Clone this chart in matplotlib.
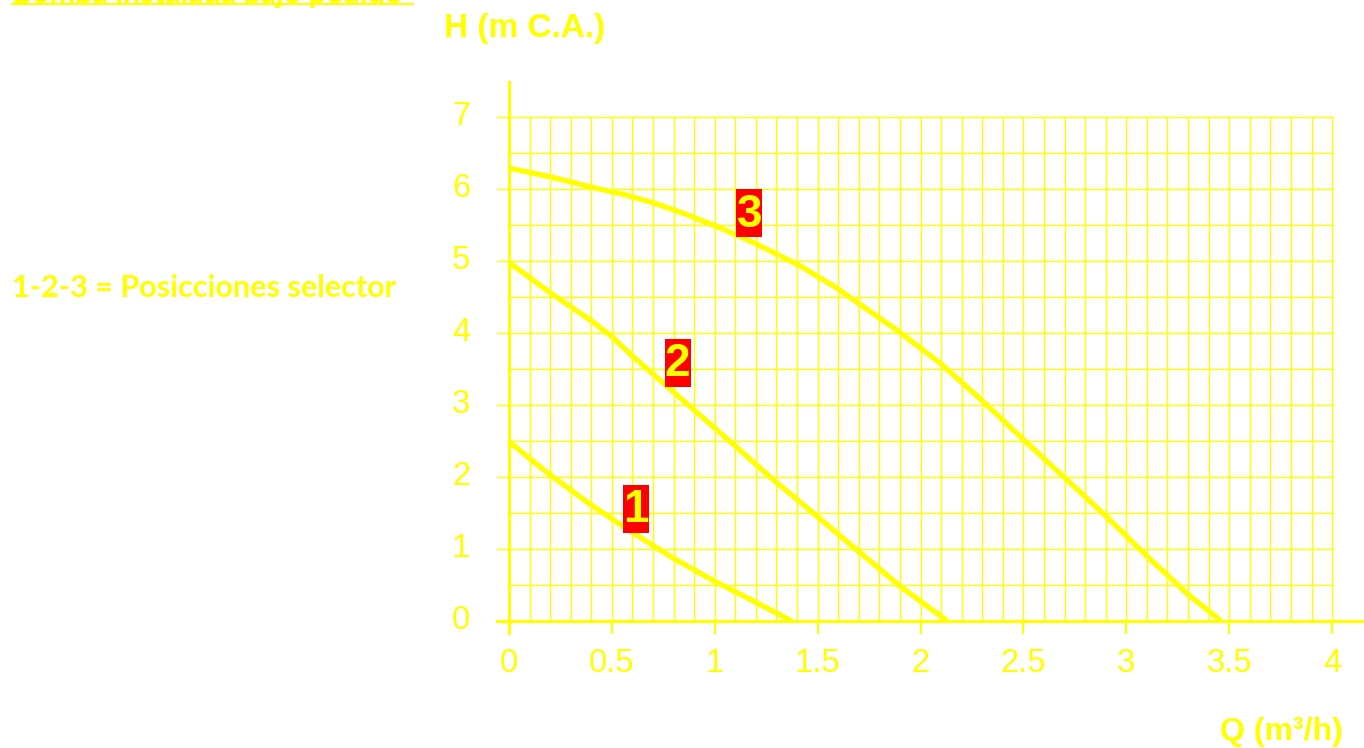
import numpy as np
import matplotlib
matplotlib.use('Agg')
import matplotlib.pyplot as plt
from matplotlib.lines import Line2D
from matplotlib.patches import Rectangle

# curvas de la bomba, posiciones 1-2-3 del selector
q1 = [0, 0.2, 0.4, 0.6, 0.8, 1.0, 1.2, 1.374]
h1 = [2.49, 2.03, 1.61, 1.23, 0.87, 0.55, 0.26, 0.0]

q2 = [0, 0.2, 0.4, 0.5, 0.6, 0.7, 0.8, 0.9, 1.1, 1.285, 1.416, 1.687, 1.90, 2.13]
h2 = [4.98, 4.56, 4.17, 3.95, 3.68, 3.43, 3.18, 2.93, 2.43, 1.96, 1.65, 0.995, 0.485, 0.0]

q3 = [0, 0.2, 0.394, 0.55, 0.7, 0.85, 1.01, 1.2, 1.416, 1.59, 1.90, 2.10, 2.30, 2.50, 2.70, 2.90, 3.10, 3.30, 3.46]
h3 = [6.29, 6.17, 6.03, 5.93, 5.81, 5.66, 5.48, 5.24, 4.93, 4.63, 4.01, 3.57, 3.06, 2.52, 1.99, 1.46, 0.90, 0.37, 0.0]

labels = ['1', '2', '3']
label_q = [0.619, 0.82, 1.168]
label_h = [1.56, 3.59, 5.66]

x_ticks = [0, 0.5, 1, 1.5, 2, 2.5, 3, 3.5, 4]
x_tick_labels = ['0', '0.5', '1', '1.5', '2', '2.5', '3', '3.5', '4']
y_ticks = [0, 1, 2, 3, 4, 5, 6, 7]

YEL = '#FFFF00'
RED = '#FF0000'

fig = plt.figure(figsize=(13.64, 7.48), dpi=100, facecolor='white')
W, H = 1364, 748
ax = fig.add_axes([497 / W, 1 - 640 / H, 867 / W, 558 / H])
ax.set_xlim(-0.058, 4.155)
ax.set_ylim(-0.264, 7.486)
ax.axis('off')

# rejilla
for i in range(1, 41):
    q = i / 10
    ax.plot([q, q], [0, 7], color=YEL, lw=1.0, zorder=1)
for j in range(1, 15):
    hh = j / 2
    x0 = -0.058 if j % 2 == 0 else 0
    ax.plot([x0, 4.0], [hh, hh], color=YEL, lw=1.0, zorder=1)

# ejes
ax.plot([0, 0], [-0.17, 7.486], color=YEL, lw=2.2, zorder=2, clip_on=False)
ax.plot([-0.058, 4.155], [0, 0], color=YEL, lw=2.2, zorder=2, clip_on=False)
for t in x_ticks:
    ax.plot([t, t], [-0.17, 0], color=YEL, lw=1.5, zorder=2, clip_on=False)

for t, lab in zip(x_ticks, x_tick_labels):
    ax.text(t, -0.597, lab, ha='center', va='center', color=YEL, fontsize=23.5,
            family='Liberation Sans')
for t in y_ticks:
    ax.text(-0.233, t, str(t), ha='center', va='center', color=YEL, fontsize=23.5,
            family='Liberation Sans')

# curvas
for q, h in [(q1, h1), (q2, h2), (q3, h3)]:
    ax.plot(q, h, color=YEL, lw=3.8, solid_joinstyle='round', solid_capstyle='butt',
            zorder=3, clip_on=False)

# etiquetas con caja roja (26x48 px)
bw, bh = 26 / 205.75, 48 / 72
for lab, q, h in zip(labels, label_q, label_h):
    ax.add_patch(Rectangle((q - bw / 2, h - bh / 2), bw, bh, facecolor=RED,
                           edgecolor='none', zorder=4))
    ax.text(q, h - 0.186, lab, ha='center', va='baseline', color=YEL, fontsize=33,
            fontweight='bold', family='Liberation Sans', zorder=5)

# textos
fig.text(444 / W, 1 - 28 / H, 'H (m C.A.)', ha='left', va='center', color=YEL,
         fontsize=24, fontweight='bold', family='Liberation Sans')
fig.text(1343 / W, 1 - 732 / H, 'Q (m\u00b3/h)', ha='right', va='center', color=YEL,
         fontsize=23, fontweight='bold', family='Liberation Sans')
fig.text(12 / W, 1 - 288 / H, '1-2-3 = Posicciones selector', ha='left', va='center',
         color=YEL, fontsize=22, fontweight='bold', family='Lato')
fig.text(12 / W, 1 - 2.7 / H, 'Bomba instalada bajo pedido', ha='left', va='baseline',
         color=YEL, fontsize=22, fontweight='bold', family='Lato')
fig.add_artist(Line2D([12 / W, 413 / W], [1 - 4 / H, 1 - 4 / H], color=YEL, lw=1.5))

fig.savefig('out.png', dpi=100, facecolor='white')
